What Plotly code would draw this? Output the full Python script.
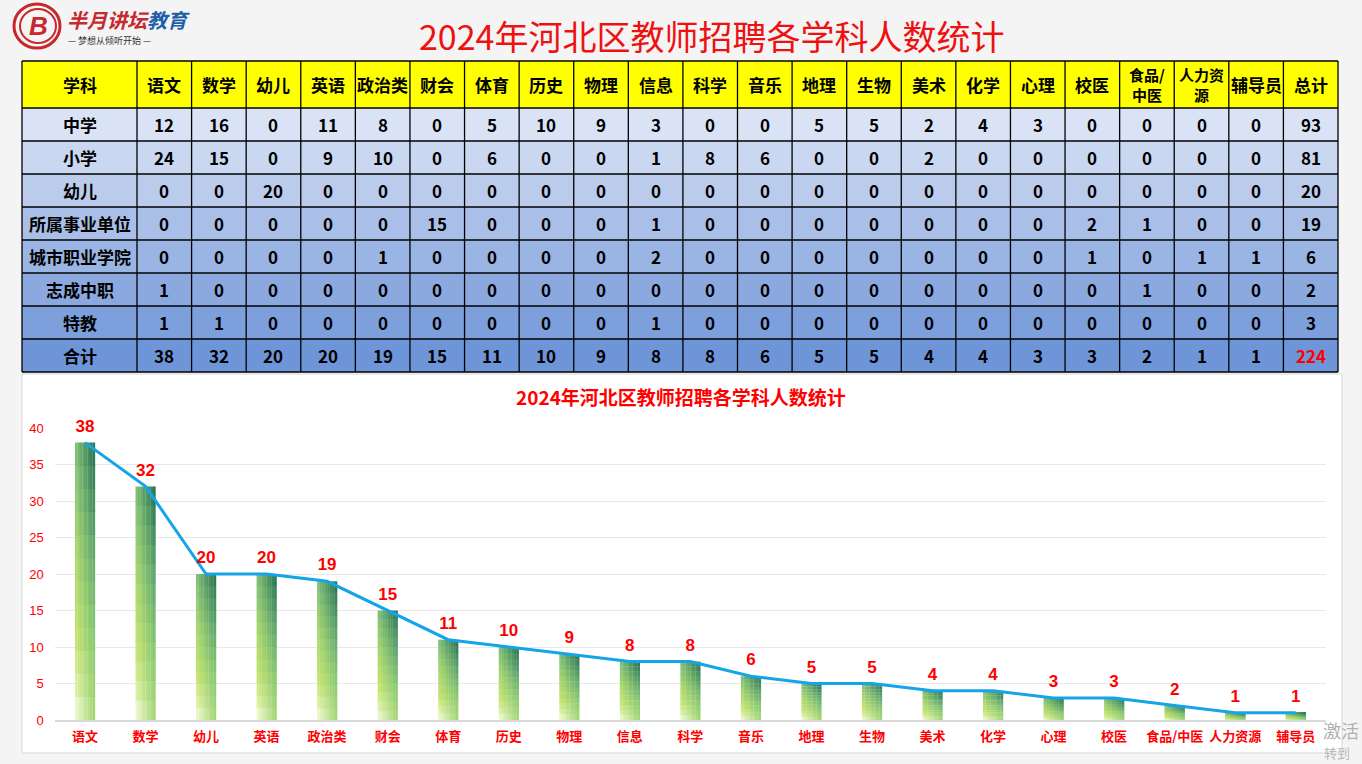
import plotly.graph_objects as go

W, H = 1362, 764

# ---------------- data ----------------
subjects = ["语文", "数学", "幼儿", "英语", "政治类", "财会", "体育", "历史", "物理", "信息", "科学",
            "音乐", "地理", "生物", "美术", "化学", "心理", "校医", "食品/中医", "人力资源", "辅导员"]
header_labels = ["学科", "语文", "数学", "幼儿", "英语", "政治类", "财会", "体育", "历史", "物理", "信息", "科学",
                 "音乐", "地理", "生物", "美术", "化学", "心理", "校医", "食品/<br>中医", "人力资<br>源", "辅导员", "总计"]
row_labels = ["中学", "小学", "幼儿", "所属事业单位", "城市职业学院", "志成中职", "特教", "合计"]

zhongxue = [12, 16, 0, 11, 8, 0, 5, 10, 9, 3, 0, 0, 5, 5, 2, 4, 3, 0, 0, 0, 0]
xiaoxue = [24, 15, 0, 9, 10, 0, 6, 0, 0, 1, 8, 6, 0, 0, 2, 0, 0, 0, 0, 0, 0]
youer = [0, 0, 20, 0, 0, 0, 0, 0, 0, 0, 0, 0, 0, 0, 0, 0, 0, 0, 0, 0, 0]
shiye = [0, 0, 0, 0, 0, 15, 0, 0, 0, 1, 0, 0, 0, 0, 0, 0, 0, 2, 1, 0, 0]
zhiye = [0, 0, 0, 0, 1, 0, 0, 0, 0, 2, 0, 0, 0, 0, 0, 0, 0, 1, 0, 1, 1]
zhicheng = [1, 0, 0, 0, 0, 0, 0, 0, 0, 0, 0, 0, 0, 0, 0, 0, 0, 0, 1, 0, 0]
tejiao = [1, 1, 0, 0, 0, 0, 0, 0, 0, 1, 0, 0, 0, 0, 0, 0, 0, 0, 0, 0, 0]
heji = [38, 32, 20, 20, 19, 15, 11, 10, 9, 8, 8, 6, 5, 5, 4, 4, 3, 3, 2, 1, 1]
row_totals = [93, 81, 20, 19, 6, 2, 3, 224]

title_text = "2024年河北区教师招聘各学科人数统计"

# ---------------- helpers ----------------
def px(x):
    return x / W

def py(y):
    return 1 - y / H

def hex2rgb(h):
    h = h.lstrip("#")
    return [int(h[i:i + 2], 16) for i in (0, 2, 4)]

def ramp(stops, t):
    for (t0, c0), (t1, c1) in zip(stops[:-1], stops[1:]):
        if t <= t1:
            f = (t - t0) / (t1 - t0) if t1 > t0 else 0
            a, b = hex2rgb(c0), hex2rgb(c1)
            return [a[i] + (b[i] - a[i]) * f for i in range(3)]
    return hex2rgb(stops[-1][1])

fig = go.Figure()
shapes = []
annotations = []

# ---------------- table (shapes + text) ----------------
row_fills = ["#dae3f5", "#cad7f0", "#bacbec", "#a9bfe7", "#9ab4e3", "#8ba9df", "#7d9fdb", "#6e95d7"]
rows = [zhongxue, xiaoxue, youer, shiye, zhiye, zhicheng, tejiao, heji]
tx0, tx1, first_w = 22, 1338, 115
ncol = len(header_labels)
col_w = (tx1 - tx0 - first_w) / (ncol - 1)
col_edges = [tx0, tx0 + first_w] + [tx0 + first_w + col_w * k for k in range(1, ncol)]
ty0, head_h, row_h = 61, 47, 33
row_edges = [ty0, ty0 + head_h] + [ty0 + head_h + row_h * k for k in range(1, len(rows) + 1)]

shapes.append(dict(type="rect", xref="paper", yref="paper", x0=px(tx0), x1=px(tx1),
                   y0=py(row_edges[1]), y1=py(row_edges[0]), fillcolor="#ffff00", line=dict(width=0), layer="below"))
for i, fc in enumerate(row_fills):
    shapes.append(dict(type="rect", xref="paper", yref="paper", x0=px(tx0), x1=px(tx1),
                       y0=py(row_edges[i + 2]), y1=py(row_edges[i + 1]), fillcolor=fc, line=dict(width=0), layer="below"))
for ye in row_edges:
    shapes.append(dict(type="line", xref="paper", yref="paper", x0=px(tx0), x1=px(tx1), y0=py(ye), y1=py(ye),
                       line=dict(color="black", width=1.3)))
for xe in col_edges:
    shapes.append(dict(type="line", xref="paper", yref="paper", x0=px(xe), x1=px(xe),
                       y0=py(row_edges[-1]), y1=py(row_edges[0]), line=dict(color="black", width=1.3)))

def cell_text(txt, c, r_top, r_bot, color="black", size=17):
    xc = (col_edges[c] + col_edges[c + 1]) / 2
    yc = (r_top + r_bot) / 2
    annotations.append(dict(text="<b>" + txt + "</b>", x=px(xc), y=py(yc), xref="paper", yref="paper",
                            showarrow=False, xanchor="center", yanchor="middle",
                            font=dict(family="Noto Sans CJK SC", size=size, color=color)))

for c, lab in enumerate(header_labels):
    cell_text(lab, c, row_edges[0], row_edges[1], size=15 if "<br>" in lab else 17)
for r, lab in enumerate(row_labels):
    top, bot = row_edges[r + 1], row_edges[r + 2]
    cell_text(lab, 0, top, bot)
    for j in range(len(subjects)):
        cell_text(str(rows[r][j]), j + 1, top, bot)
    cell_text(str(row_totals[r]), ncol - 1, top, bot, color="#ff0000" if r == len(rows) - 1 else "black")

# ---------------- bars: gradient built from slices of each bar ----------------
left_stops = [(0, "#f7fce4"), (0.12, "#e2f2a6"), (0.3, "#c9e56e"), (0.6, "#b0db6c"), (1, "#7fc27a")]
right_stops = [(0, "#a3d56f"), (0.3, "#86c874"), (0.6, "#5ea771"), (1, "#236e4f")]
bw = 0.33
NX, NY = 8, 12
sw = bw / NX
for s in range(NY):
    h = (s + 0.5) / NY
    L, R = ramp(left_stops, h), ramp(right_stops, h)
    for k in range(NX):
        u = (k + 0.5) / NX
        c = [L[i] + (R[i] - L[i]) * u for i in range(3)]
        col = "rgb(%d,%d,%d)" % tuple(int(round(v)) for v in c)
        fig.add_trace(go.Bar(
            x=subjects,
            y=[v / NY * (1.04 if s < NY - 1 else 1.0) for v in heji],
            base=[v * s / NY for v in heji],
            width=sw * 1.08, offset=-bw / 2 + k * sw,
            marker=dict(color=col, line=dict(width=0)),
            hoverinfo="skip", showlegend=False,
        ))

# ---------------- line ----------------
fig.add_trace(go.Scatter(
    x=subjects, y=heji, mode="lines",
    line=dict(color="#14a5e8", width=3),
    showlegend=False, hoverinfo="skip",
))
# value labels
fig.add_trace(go.Scatter(
    x=subjects, y=heji, mode="markers+text",
    marker=dict(size=9, color="rgba(0,0,0,0)"),
    text=[str(v) for v in heji], textposition="top center",
    textfont=dict(family="Liberation Sans", size=17, color="#ff0000", weight="bold"),
    showlegend=False, cliponaxis=False, hoverinfo="skip",
))

# ---------------- other decorations ----------------
shapes += [
    dict(type="rect", xref="paper", yref="paper", x0=px(22), x1=px(1342), y0=py(753), y1=py(374),
         fillcolor="white", line=dict(color="#d9d9d9", width=1), layer="below"),
    dict(type="circle", xref="paper", yref="paper", x0=px(14), x1=px(60), y0=py(48), y1=py(4),
         line=dict(color="#c7282e", width=3), fillcolor="rgba(0,0,0,0)"),
    dict(type="circle", xref="paper", yref="paper", x0=px(20), x1=px(56), y0=py(43), y1=py(9),
         line=dict(color="#c7282e", width=2), fillcolor="rgba(0,0,0,0)"),
]

annotations += [
    dict(text=title_text, x=px(712), y=py(36), xref="paper", yref="paper", showarrow=False,
         font=dict(family="Noto Sans CJK SC", size=34, color="#ee1111"), xanchor="center", yanchor="middle"),
    dict(text="<b>" + title_text + "</b>", x=px(681), y=py(396), xref="paper", yref="paper", showarrow=False,
         font=dict(family="Noto Sans CJK SC", size=19, color="#ff0000"), xanchor="center", yanchor="middle"),
    dict(text="<b><i>B</i></b>", x=px(38), y=py(26), xref="paper", yref="paper", showarrow=False,
         font=dict(family="Liberation Sans", size=26, color="#c7282e"), xanchor="center", yanchor="middle"),
    dict(text="<b><i><span style='color:#c62a2f'>半月讲坛</span><span style='color:#1e5ea8'>教育</span></i></b>",
         x=px(65), y=py(20), xref="paper", yref="paper", showarrow=False,
         font=dict(family="Noto Sans CJK SC", size=20), xanchor="left", yanchor="middle"),
    dict(text="— 梦想从倾听开始 —", x=px(66), y=py(41), xref="paper", yref="paper", showarrow=False,
         font=dict(family="Noto Sans CJK SC", size=9, color="#333333"), xanchor="left", yanchor="middle"),
    dict(text="激活", x=px(1321), y=py(730), xref="paper", yref="paper", showarrow=False,
         font=dict(family="Noto Sans CJK SC", size=18, color="#b0b0b0"), xanchor="left", yanchor="middle"),
    dict(text="转到", x=px(1322), y=py(752), xref="paper", yref="paper", showarrow=False,
         font=dict(family="Noto Sans CJK SC", size=13, color="#b8b8b8"), xanchor="left", yanchor="middle"),
]

fig.update_layout(
    width=W, height=H,
    margin=dict(l=0, r=0, t=0, b=0, pad=0),
    paper_bgcolor="#f4f4f4",
    plot_bgcolor="white",
    barmode="overlay",
    showlegend=False,
    shapes=shapes,
    annotations=annotations,
    xaxis=dict(
        domain=[px(54.7), px(1326)],
        type="category", range=[-0.5, len(subjects) - 0.5],
        tickfont=dict(family="Noto Sans CJK SC", size=13, color="#ff0000", weight="bold"),
        showline=True, linecolor="#d9d9d9", linewidth=2,
        ticks="", showgrid=False, fixedrange=True, automargin=False,
        ticklabelstandoff=3,
    ),
    yaxis=dict(
        domain=[1 - 720 / H, 1 - 428 / H],
        range=[0, 40], dtick=5,
        tickfont=dict(family="Liberation Sans", size=13, color="#ff0000"),
        gridcolor="#e8e8e8", gridwidth=1,
        zeroline=False, showline=False, ticks="",
        ticklabelstandoff=10, fixedrange=True, automargin=False,
    ),
)

fig.write_html("out.html")
